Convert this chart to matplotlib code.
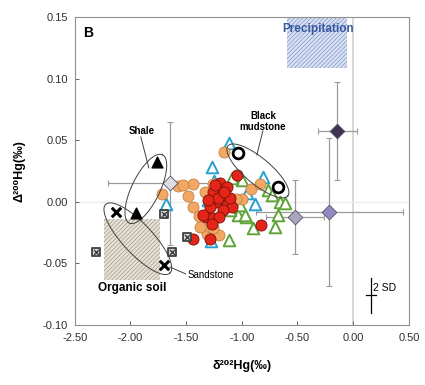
import numpy as np
import matplotlib
matplotlib.use("Agg")
import matplotlib.pyplot as plt
from matplotlib.patches import Rectangle

# ---- data ----
orange_x = [-1.162, -1.719, -1.575, -1.485, -1.440, -1.332, -1.260, -0.919, -0.838, -1.000,
            -1.054, -1.108, -1.314, -1.287, -1.207, -1.440, -1.377, -1.260, -1.530, -1.386]
orange_y = [0.040, 0.0063, 0.0128, 0.0047, 0.0144, 0.0080, 0.0144, 0.0104, 0.0144, 0.0023,
            0.0023, -0.001, -0.0261, -0.0205, -0.027, -0.0042, -0.0205, -0.0213, 0.0136, -0.0115]

red_x = [-1.045, -1.198, -1.135, -1.260, -1.180, -1.233, -1.135, -1.090, -1.171, -1.287,
         -1.323, -1.260, -1.207, -1.269, -1.440, -1.287, -0.829, -1.350, -1.216, -1.108,
         -1.162, -1.243, -1.305]
red_y = [0.0218, 0.0153, 0.0120, 0.0080, 0.0055, -0.0002, -0.0026, -0.0042, -0.0067, -0.0042,
         -0.0123, -0.0131, -0.0123, -0.0180, -0.0302, -0.0302, -0.0188, -0.0107, 0.0031, 0.0031,
         0.0080, 0.0136, 0.0015]

cyan_x = [-1.117, -1.269, -1.683, -0.811, -1.251, -1.305, -0.883, -1.278, -0.955]
cyan_y = [0.0477, 0.0282, -0.0018, 0.0201, 0.0169, 0.0015, -0.0018, -0.0318, 0.0071]

green_x = [-1.000, -1.090, -0.766, -0.659, -0.614, -0.677, -0.704, -0.901, -0.964, -1.036,
           -1.117, -0.973, -0.730, -1.108, -1.018]
green_y = [0.0177, 0.0193, 0.0096, -0.0002, -0.001, -0.0107, -0.0205, -0.0213, -0.0123, -0.0107,
           -0.031, -0.0107, 0.0055, -0.0067, -0.0026]

box_x = [-1.70, -1.628, -2.31, -1.49]
box_y = [-0.010, -0.041, -0.041, -0.0286]

sand_x = [-2.131, -1.70]
sand_y = [-0.0083, -0.051]
shale_x = [-1.95, -1.763]
shale_y = [-0.009, 0.0323]
mud_x = [-1.034, -0.674]
mud_y = [0.0396, 0.012]

# mean values with 2SD error bars
dia_x = [-0.144, -0.216, -0.522, -1.646]
dia_y = [0.0575, -0.008, -0.0123, 0.015]
dia_xerr = [0.175, 0.66, 0.26, 0.56]
dia_yerr = [0.04, 0.06, 0.03, 0.05]
dia_col = ["#3e3450", "#9488c0", "#aaa4bc", "#dcdce4"]

# px -> data unit conversion (axes 334 x 308 px)
XU = 3.0 / 334
YU = 0.25 / 308


def ellipse(ax, cx, cy, a, b, ang):
    t = np.linspace(0, 2 * np.pi, 200)
    u, v = a * np.cos(t), b * np.sin(t)
    r = np.deg2rad(ang)
    dx = u * np.cos(r) - v * np.sin(r)
    dy = u * np.sin(r) + v * np.cos(r)
    ax.plot(cx + dx * XU, cy + dy * YU, color="#404040", lw=0.7, zorder=6)


plt.rcParams["font.family"] = ["Liberation Sans", "DejaVu Sans"]
plt.rcParams["hatch.linewidth"] = 0.5

fig = plt.figure(figsize=(4.25, 3.85), dpi=100)
ax = fig.add_axes([0.176, 0.156, 0.786, 0.80])

ax.set_xlim(-2.5, 0.5)
ax.set_ylim(-0.10, 0.15)
ax.set_xticks(np.arange(-2.5, 0.51, 0.5))
ax.set_yticks(np.arange(-0.10, 0.151, 0.05))
ax.set_xticklabels([f"{v:.2f}" for v in np.arange(-2.5, 0.51, 0.5)])
ax.set_yticklabels([f"{v:.2f}" for v in np.arange(-0.10, 0.151, 0.05)])
ax.tick_params(direction="in", length=3, width=0.7, colors="#606060",
               labelcolor="#303030", labelsize=8)
ax.tick_params(axis="x", pad=6)
ax.tick_params(axis="y", pad=5)
for s in ax.spines.values():
    s.set_color("#909090")
    s.set_linewidth(0.8)

ax.axvline(0, color="#d4d4d4", lw=1.3, zorder=0)
ax.axhline(0, color="#ececec", lw=1.0, zorder=0)

# source fields
ax.add_patch(Rectangle((-2.24, -0.0635), 0.504, 0.0495, facecolor="#e6e2d8",
                       edgecolor="#a49c88", hatch="////////", lw=0, zorder=1))
ax.add_patch(Rectangle((-0.594, 0.1086), 0.54, 0.0414, facecolor="#d8e0f2",
                       edgecolor="#7f98cc", hatch="////////", lw=0, zorder=1))

for x, y, xe, ye, c in zip(dia_x, dia_y, dia_xerr, dia_yerr, dia_col):
    ax.errorbar(x, y, xerr=xe, yerr=ye, fmt="none", ecolor="#9a9a9a",
                elinewidth=0.9, capsize=2.5, capthick=0.8, zorder=2)

ax.scatter(cyan_x, cyan_y, marker="^", s=70, facecolor="white", edgecolor="#2aa0cf",
           linewidth=1.4, zorder=3)
ax.scatter(green_x, green_y, marker="^", s=70, facecolor="white", edgecolor="#5fa33a",
           linewidth=1.4, zorder=3)
ax.scatter(orange_x, orange_y, marker="o", s=64, facecolor="#f2a862", edgecolor="#b8783c",
           linewidth=0.5, zorder=4)
ax.scatter(red_x, red_y, marker="o", s=64, facecolor="#e4261a", edgecolor="#7a1008",
           linewidth=0.6, zorder=5)

for x, y, c in zip(dia_x, dia_y, dia_col):
    ax.scatter(x, y, marker="D", s=56, facecolor=c, edgecolor="#505060", linewidth=0.6, zorder=6)

ax.scatter(box_x, box_y, marker="s", s=40, facecolor="#d8d8d8", edgecolor="#404040",
           linewidth=1.3, zorder=6)
ax.scatter(box_x, box_y, marker="x", s=14, color="#404040", linewidth=1.0, zorder=7)
ax.scatter(sand_x, sand_y, marker="x", s=46, color="black", linewidth=2.2, zorder=7)
ax.scatter(shale_x, shale_y, marker="^", s=60, color="black", zorder=7)
ax.scatter(mud_x, mud_y, marker="o", s=60, facecolor="white", edgecolor="black",
           linewidth=2.0, zorder=7)

# groupings
ellipse(ax, -1.862, 0.0104, 38, 14, 64)
ellipse(ax, -1.934, -0.030, 47, 15, -47)
ellipse(ax, -0.856, 0.025, 39, 13, -40)
ax.plot([-1.907, -1.835], [0.0526, 0.0274], color="#404040", lw=0.7, zorder=6)
ax.plot([-0.811, -0.865], [0.0575, 0.038], color="#404040", lw=0.7, zorder=6)
ax.plot([-1.647, -1.503], [-0.053, -0.0586], color="#404040", lw=0.7, zorder=6)

ax.text(-1.898, 0.0575, "Shale", ha="center", va="center", fontsize=7, fontweight="bold")
ax.text(-0.811, 0.0652, "Black\nmudstone", ha="center", va="center", fontsize=7,
        fontweight="bold", linespacing=1.1)
ax.text(-1.485, -0.0594, "Sandstone", ha="left", va="center", fontsize=7)
ax.text(-1.988, -0.070, "Organic soil", ha="center", va="center", fontsize=8.5,
        fontweight="bold")
ax.text(-0.317, 0.1405, "Precipitation", ha="center", va="center", fontsize=8.5,
        fontweight="bold", color="#3a5aa0")
ax.text(0.039, 0.948, "B", transform=ax.transAxes, ha="center", va="center",
        fontsize=10, fontweight="bold")

# 2SD scale bar
ax.plot([0.159, 0.159], [-0.0619, -0.0903], color="black", lw=0.9)
ax.plot([0.114, 0.204], [-0.0757, -0.0757], color="black", lw=0.9)
ax.text(0.178, -0.070, "2 SD", ha="left", va="center", fontsize=7.5)

ax.set_xlabel("δ²⁰²Hg(‰)", fontsize=9, fontweight="bold", labelpad=12)
ax.set_ylabel("Δ²⁰⁰Hg(‰)", fontsize=9, fontweight="bold", labelpad=12)

fig.savefig("out.png", dpi=100)
